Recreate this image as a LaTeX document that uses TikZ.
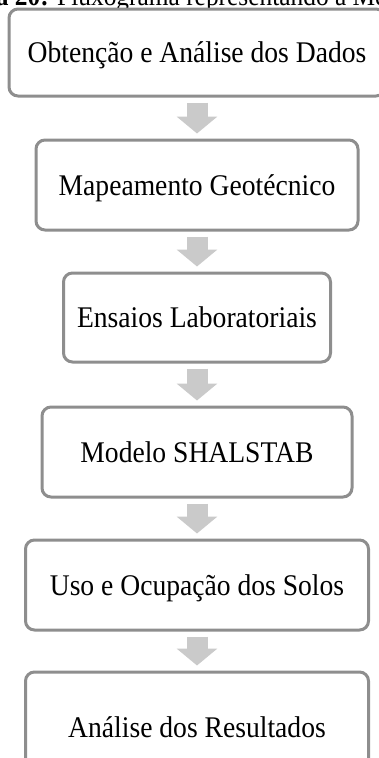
\documentclass[tikz,border=0pt]{standalone}
\usepackage{fontspec}
\setmainfont{Liberation Serif}[FakeStretch=0.92]
\usepackage{xcolor}
\usetikzlibrary{arrows.meta}
\definecolor{flowRule}{HTML}{8E8E8E}
\definecolor{flowArrow}{HTML}{CACACA}

\begin{document}
\begin{tikzpicture}[
  x=1pt,y=-1pt,
  font=\fontsize{30}{36}\selectfont,
  stepbox/.style={draw=flowRule,line width=3pt,rounded corners=9pt,
                  fill=white,inner sep=0pt,align=center,
                  text height=20pt,text depth=0pt},
  blockarrow/.style={-{Triangle[width=40pt,length=17pt]},draw=flowArrow,
                     line width=21pt,shorten <=5pt,shorten >=5pt}
]
\clip (0,0) rectangle (379,758);
\useasboundingbox (0,0) rectangle (379,758);

% caption of the figure, cut off by the page edge
\node[anchor=base west,inner sep=0pt,font=\fontsize{27.6}{32}\selectfont] (cap) at (-65,5)
  {\textbf{Figura 20:} Fluxograma representando a Metodologia};

\node[stepbox,minimum width=376,minimum height=87] (obt) at (197,52.5) {Obtenção e Análise dos Dados};
\node[stepbox,minimum width=322,minimum height=90] (map) at (197,185)  {Mapeamento Geotécnico};
\node[stepbox,minimum width=267,minimum height=89] (ens) at (197,317.5) {Ensaios Laboratoriais};
\node[stepbox,minimum width=310,minimum height=90] (mod) at (197,452)  {Modelo SHALSTAB};
\node[stepbox,minimum width=343,minimum height=90] (uso) at (197,585)  {Uso e Ocupação dos Solos};
\node[stepbox,minimum width=343,minimum height=110] (res) at (197,727) {Análise dos Resultados};

% block arrows between the steps
\foreach \a/\b in {obt/map,map/ens,ens/mod,mod/uso,uso/res}
  \draw[blockarrow] (\a) -- (\b);
\end{tikzpicture}
\end{document}
